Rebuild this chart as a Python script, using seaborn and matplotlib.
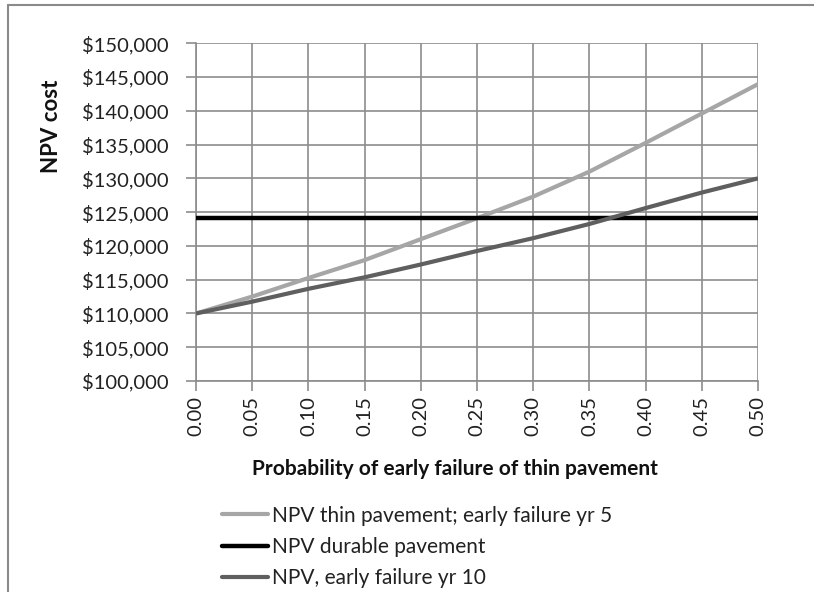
import matplotlib
matplotlib.use("Agg")
import matplotlib.pyplot as plt
import matplotlib.ticker as mticker
from matplotlib.lines import Line2D
import pandas as pd
import seaborn as sns

# Probability of early failure of the thin pavement
prob = [0.00, 0.05, 0.10, 0.15, 0.20, 0.25, 0.30, 0.35, 0.40, 0.45, 0.50]

# Net present value of each strategy ($)
npv_thin_yr5 = [110000, 112500, 115250, 117900, 121000, 124100, 127300, 131000, 135250, 139600, 143950]
npv_durable = [124200] * len(prob)
npv_thin_yr10 = [110000, 111750, 113650, 115350, 117250, 119250, 121150, 123250, 125600, 127900, 130000]

series_names = [
    "NPV thin pavement; early failure yr 5",
    "NPV durable pavement",
    "NPV, early failure yr 10",
]
series_colors = ["#a6a6a6", "#000000", "#5f5f5f"]
series_widths = [3.0, 3.2, 3.0]

y_ticks = list(range(100000, 150001, 5000))
x_ticks = [0.00, 0.05, 0.10, 0.15, 0.20, 0.25, 0.30, 0.35, 0.40, 0.45, 0.50]

df = pd.DataFrame({
    "prob": prob * 3,
    "npv": npv_thin_yr5 + npv_durable + npv_thin_yr10,
    "series": [series_names[0]] * len(prob)
              + [series_names[1]] * len(prob)
              + [series_names[2]] * len(prob),
})

sns.set_theme(style="white")
plt.rcParams["font.family"] = ["Lato", "DejaVu Sans"]

fig = plt.figure(figsize=(8.14, 5.92), dpi=100)
ax = fig.add_axes([0.2408, 0.3564, 0.6904, 0.5705])

sns.lineplot(
    data=df, x="prob", y="npv", hue="series",
    hue_order=series_names, palette=series_colors,
    ax=ax, legend=False,
)
for line, lw in zip(ax.get_lines(), series_widths):
    line.set_linewidth(lw)
    line.set_solid_capstyle("butt")
    line.set_zorder(3)

ax.set_xlim(0, 0.5)
ax.set_ylim(100000, 150000)
ax.set_xticks(x_ticks)
ax.set_xticklabels([f"{v:.2f}" for v in x_ticks], rotation=90)
ax.set_yticks(y_ticks)
ax.yaxis.set_major_formatter(mticker.FuncFormatter(lambda v, p: f"${v:,.0f}"))

grid_color = "#8c8c8c"
ax.grid(True, color=grid_color, linewidth=1.2)
ax.set_axisbelow(True)
for side in ["top", "right"]:
    ax.spines[side].set_visible(False)
for side in ["left", "bottom"]:
    ax.spines[side].set_color(grid_color)
    ax.spines[side].set_linewidth(1.2)
ax.tick_params(axis="both", which="major", length=7, width=1.2, color=grid_color,
               labelsize=14.5, labelcolor="#222222", left=True, bottom=True)
ax.tick_params(axis="y", pad=13)
ax.tick_params(axis="x", pad=4)

ax.set_xlabel("Probability of early failure of thin pavement", fontsize=15,
              fontweight="bold", color="#111111")
ax.xaxis.set_label_coords(0.46, -0.231)
ax.set_ylabel("NPV cost", fontsize=16, fontweight="bold", color="#111111")
ax.yaxis.set_label_coords(-0.238, 0.755)

handles = [Line2D([], [], color=c, linewidth=w) for c, w in zip(series_colors, series_widths)]
fig.legend(handles, series_names, loc="upper left", bbox_to_anchor=(222 / 814, 0.146),
           frameon=False, fontsize=15, handlelength=2.2, handletextpad=0.2,
           labelspacing=0.55, borderpad=0, borderaxespad=0, labelcolor="#222222")

# outer frame along top and left edges
frame_color = "#8a8a8a"
fig.add_artist(Line2D([8 / 814, 1.0], [1 - 5 / 592, 1 - 5 / 592], transform=fig.transFigure,
                      color=frame_color, linewidth=1.5))
fig.add_artist(Line2D([8 / 814, 8 / 814], [0.0, 1 - 5 / 592], transform=fig.transFigure,
                      color=frame_color, linewidth=1.5))

fig.savefig("out.png", dpi=100)
